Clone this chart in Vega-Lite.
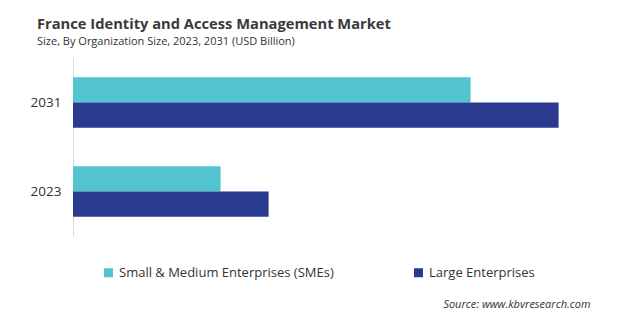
{
  "$schema": "https://vega.github.io/schema/vega-lite/v6.json",
  "autosize": {"type": "none"},
  "width": 500,
  "height": 178,
  "padding": {"left": 73, "top": 58, "right": 47, "bottom": 86},
  "background": "white",
  "title": {
    "text": "France Identity and Access Management Market",
    "subtitle": "Size, By Organization Size, 2023, 2031 (USD Billion)",
    "anchor": "start",
    "frame": "group",
    "dx": -36,
    "offset": 11,
    "font": "Open Sans",
    "fontSize": 14.7,
    "fontWeight": "bold",
    "color": "#3a3a3a",
    "subtitleFont": "Open Sans",
    "subtitleFontSize": 11,
    "subtitleColor": "#333333",
    "subtitlePadding": 4
  },
  "data": {
    "values": [
      {"year": "2031", "series": "Small & Medium Enterprises (SMEs)", "value": 0.994},
      {"year": "2031", "series": "Large Enterprises", "value": 1.214},
      {"year": "2023", "series": "Small & Medium Enterprises (SMEs)", "value": 0.369},
      {"year": "2023", "series": "Large Enterprises", "value": 0.489}
    ]
  },
  "mark": {"type": "bar"},
  "encoding": {
    "y": {
      "field": "year",
      "type": "ordinal",
      "sort": ["2031", "2023"],
      "scale": {"paddingInner": 0.43, "paddingOuter": 0.215},
      "axis": {
        "title": null,
        "ticks": false,
        "domainColor": "#d9d9d9",
        "domainWidth": 1,
        "labelPadding": 12,
        "labelFont": "Open Sans",
        "labelFontSize": 13.5,
        "labelColor": "#333333"
      }
    },
    "yOffset": {
      "field": "series",
      "type": "nominal",
      "sort": ["Small & Medium Enterprises (SMEs)", "Large Enterprises"]
    },
    "x": {
      "field": "value",
      "type": "quantitative",
      "scale": {"domain": [0, 1.25], "nice": false},
      "axis": {
        "labels": false,
        "ticks": false,
        "domain": false,
        "grid": false,
        "title": "Source: www.kbvresearch.com",
        "titleFont": "Open Sans",
        "titleFontSize": 11,
        "titleFontStyle": "italic",
        "titleFontWeight": "normal",
        "titleColor": "#333333",
        "titleAlign": "right",
        "titleAnchor": "end",
        "titleBaseline": "alphabetic",
        "titleX": 517,
        "titleY": 71
      }
    },
    "color": {
      "field": "series",
      "type": "nominal",
      "sort": ["Small & Medium Enterprises (SMEs)", "Large Enterprises"],
      "scale": {
        "domain": ["Small & Medium Enterprises (SMEs)", "Large Enterprises"],
        "range": ["#52c4d0", "#2a3a8e"]
      },
      "legend": {
        "title": null,
        "orient": "none",
        "direction": "horizontal",
        "legendX": 29,
        "legendY": 208,
        "symbolType": "square",
        "symbolSize": 81,
        "symbolStrokeWidth": 0,
        "labelFont": "Open Sans",
        "labelFontSize": 13,
        "labelColor": "#333333",
        "labelOffset": 4,
        "labelLimit": 300,
        "columnPadding": 78
      }
    }
  },
  "config": {"view": {"stroke": null}}
}
